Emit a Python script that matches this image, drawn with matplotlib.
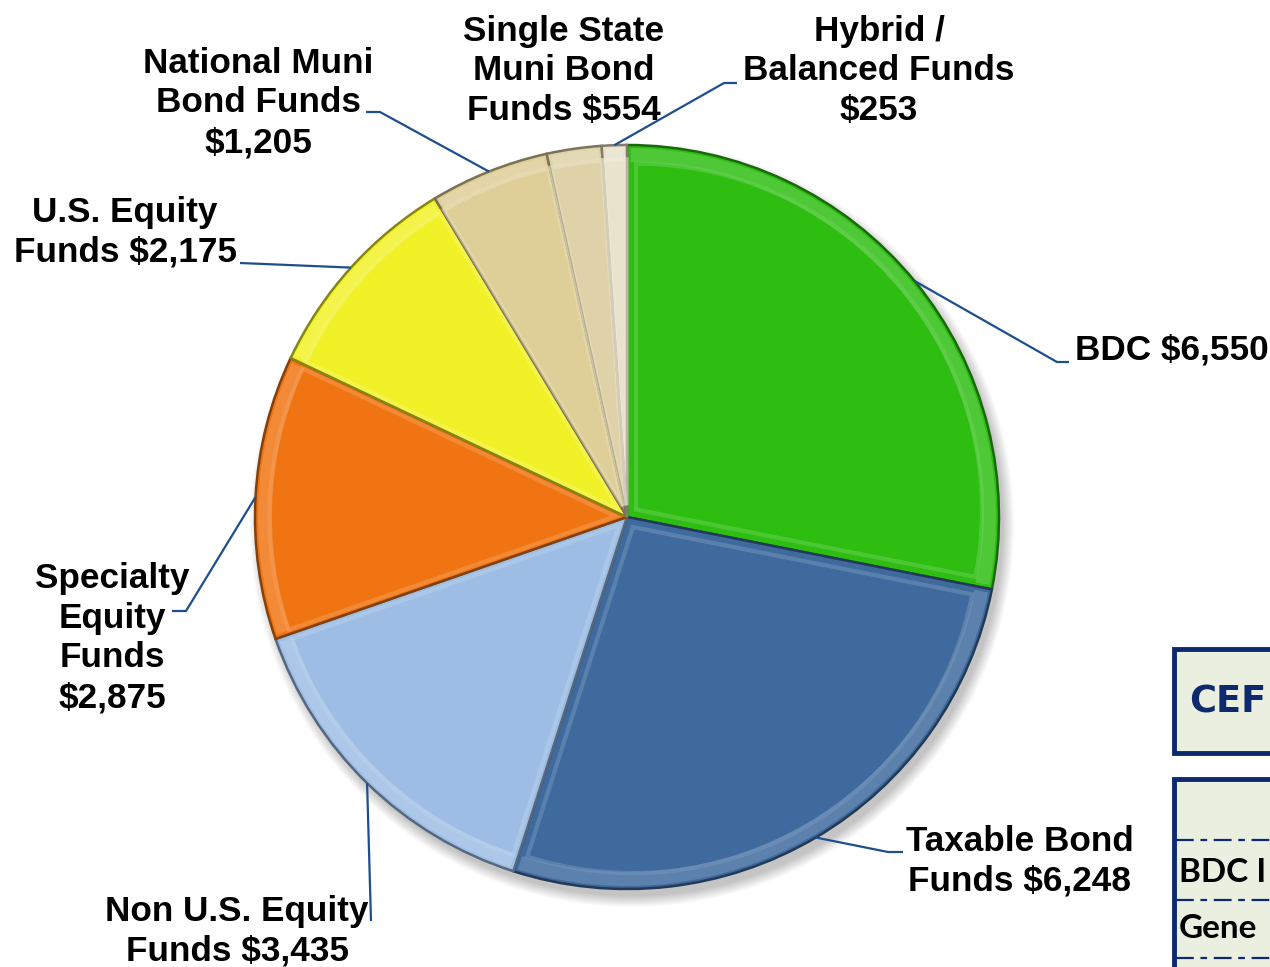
import numpy as np
import matplotlib
import matplotlib.pyplot as plt
from matplotlib.patches import Wedge, Circle, Rectangle, Polygon
from matplotlib.colors import to_rgb

matplotlib.use('Agg')

# Net assets by fund category ($ millions)
categories = ['BDC', 'Taxable Bond Funds', 'Non U.S. Equity Funds',
              'Specialty Equity Funds', 'U.S. Equity Funds',
              'National Muni Bond Funds', 'Single State Muni Bond Funds',
              'Hybrid / Balanced Funds']
values = [6550, 6248, 3435, 2875, 2175, 1205, 554, 253]
labels = ['BDC $6,550', 'Taxable Bond\nFunds $6,248', 'Non U.S. Equity\nFunds $3,435',
          'Specialty\nEquity\nFunds\n$2,875', 'U.S. Equity\nFunds $2,175',
          'National Muni\nBond Funds\n$1,205', 'Single State\nMuni Bond\nFunds $554',
          'Hybrid /\nBalanced Funds\n$253']
colors = ['#2EBE12', '#3E6A9E', '#9DBDE4', '#F07412', '#F1F128',
          '#DECE97', '#DFD2A8', '#E9E2CC']

# label text position, alignment and leader elbow (None = no leader)
label_pos = [(1075, 350, 'left'), (1020, 861, 'center'), (237, 931, 'center'),
             (112, 638, 'center'), (125, 232, 'center'), (258, 103, 'center'),
             (564, 71, 'center'), (879, 71, 'center')]
elbows = [[(1069, 362), (1057, 362)], [(903, 852), (888, 852)], [(371, 921)],
          [(172, 611), (186, 611)], [(240, 263)], [(366, 112), (380, 112)],
          None, [(737, 83), (724, 83)]]

CX, CY, R = 627, 517, 372
LEADER = '#1F4E8C'
NAVY = '#0D2A6E'


def shade(c, f):
    r, g, b = to_rgb(c)
    if f < 1:
        return (r * f, g * f, b * f)
    return tuple(x + (1 - x) * (f - 1) for x in (r, g, b))


fig = plt.figure(figsize=(12.7, 9.67), dpi=100)
ax = fig.add_axes([0, 0, 1, 1])

# soft drop shadow under the pie
for i in range(12):
    ax.add_patch(Circle((CX + 5, CY + 8), R + 10 - i, color='#000000',
                        alpha=0.02, lw=0, zorder=1))

# y axis is inverted below, so counterclockwise in data space runs clockwise on screen
wedges, _ = ax.pie(values, colors=colors, startangle=-90, counterclock=True,
                   radius=R, center=(CX, CY), frame=True,
                   wedgeprops=dict(linewidth=1.8, zorder=2))
ax.set_xlim(0, 1270)
ax.set_ylim(967, 0)  # pixel-style coords, y grows downward
ax.set_aspect('equal')
ax.axis('off')

for w, c in zip(wedges, colors):
    w.set_edgecolor(shade(c, 0.55))
    t1, t2 = w.theta1, w.theta2
    # lighter bevel band along the rim
    ax.add_patch(Wedge((CX, CY), R - 3, t1 + 0.6, t2 - 0.6, width=14,
                       facecolor=shade(c, 1.35), edgecolor='none', alpha=0.45,
                       zorder=3))
    # inner bevel outline
    th = np.radians(np.linspace(t1, t2, 60))
    mid = np.radians((t1 + t2) / 2)
    gx, gy = CX + 0.45 * R * np.cos(mid), CY + 0.45 * R * np.sin(mid)
    pts = np.vstack([[CX, CY], np.c_[CX + R * np.cos(th), CY + R * np.sin(th)]])
    pts = np.c_[gx + (pts[:, 0] - gx) * 0.93, gy + (pts[:, 1] - gy) * 0.93]
    ax.add_patch(Polygon(pts, closed=True, fill=False, edgecolor=shade(c, 1.3),
                         lw=3, alpha=0.5, zorder=3))

# labels with leader lines to the middle of each slice's rim
for w, lab, (tx, ty, ha), elb in zip(wedges, labels, label_pos, elbows):
    ax.text(tx, ty, lab, ha=ha, va='center', fontsize=25.3, fontweight='bold',
            family='Liberation Sans', linespacing=1.26, zorder=5)
    if elb is None:
        continue
    mid = np.radians((w.theta1 + w.theta2) / 2)
    px, py = CX + R * np.cos(mid), CY + R * np.sin(mid)
    xs = [p[0] for p in elb] + [px]
    ys = [p[1] for p in elb] + [py]
    ax.plot(xs, ys, color=LEADER, lw=1.6, zorder=4, solid_capstyle='butt')

# side panels running off the right edge
ax.add_patch(Rectangle((1174, 649), 120, 104, facecolor='#EBEFE0',
                       edgecolor=NAVY, lw=3.5, zorder=2, clip_on=False))
ax.text(1189, 702, 'CEF', color=NAVY, fontsize=26.5, fontweight='heavy',
        family='DejaVu Sans', va='center', ha='left', zorder=3)
ax.add_patch(Rectangle((1174, 779), 120, 220, facecolor='#EBEFE0',
                       edgecolor=NAVY, lw=3.5, zorder=2, clip_on=False))
for yy in [840, 900, 958]:
    ax.plot([1176, 1272], [yy, yy], color=NAVY, lw=1.6,
            linestyle=(0, (8, 3, 3, 3)), zorder=3)
ax.text(1179, 872, 'BDC I', color='black', fontsize=24, fontweight='bold',
        family='Lato', va='center', ha='left', zorder=3)
ax.text(1179, 928, 'Gene', color='black', fontsize=24, fontweight='bold',
        family='Lato', va='center', ha='left', zorder=3)

fig.savefig('out.png', dpi=100)
